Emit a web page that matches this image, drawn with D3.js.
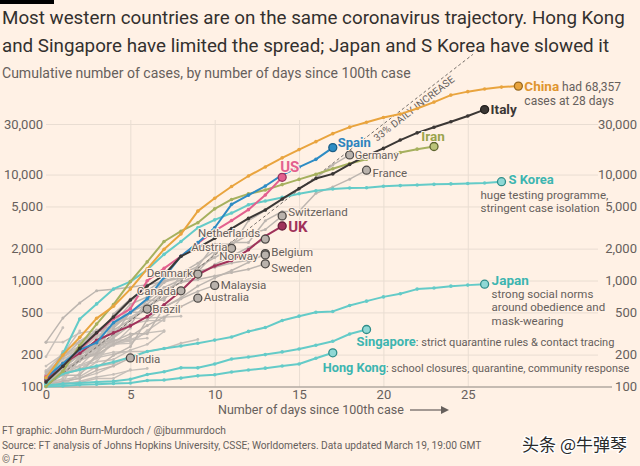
<!DOCTYPE html>
<html><head><meta charset="utf-8">
<script src="https://cdn.jsdelivr.net/npm/d3@7/dist/d3.min.js"></script>
<style>
html,body{margin:0;padding:0;background:#FFF1E5;}
svg{display:block;font-family:Roboto,"Noto Sans",sans-serif;}
</style></head><body>
<svg id="c" width="640" height="466"></svg>
<script>
// ---------------- DATA (cumulative cases, index = days since 100th case) ----------------
const china = [121,198,291,440,571,830,1287,1975,2744,4515,5974,7711,9692,11791,14380,17205,20438,24324,28018,31161,34546,37198,42000,48300,56200,60600,64100,66900,68357];
const italy = [110,155,229,322,453,655,888,1128,1694,2036,2502,3089,3858,4636,5883,7375,9172,10149,12462,15113,17660,21157,24747,27980,31506,35713,41035];
const iran = [100,139,245,388,593,978,1501,2336,2922,3513,4747,5823,6566,7161,8042,9000,10075,11364,12729,13938,14991,16169,17361,18407];
const spain = [120,165,222,259,400,500,673,1073,1695,2277,3146,5232,6391,7798,9942,11748,13910,17963];
const us = [124,158,221,319,435,541,994,1301,1697,2247,2943,3680,4663,6411,9415];
const uk = [115,163,206,273,321,373,456,590,798,1140,1372,1543,1950,2626,3269];
const sKorea = [104,204,433,602,833,977,1261,1766,2337,3150,3736,4335,5186,5621,6088,6593,7041,7314,7478,7513,7755,7869,7979,8086,8162,8236,8320,8565];
const japan = [105,132,144,156,170,189,214,228,241,256,274,293,331,360,420,461,502,511,581,639,701,750,830,850,885,905,924];
const singapore = [102,106,108,110,112,117,130,138,150,150,163,182,190,200,212,226,245,267,313,345];
const hongKong = [100,101,104,105,107,108,114,115,120,126,129,137,143,149,156,163,185,208];

// grey countries with labels
const germany = [130,159,196,262,482,670,799,1040,1176,1457,1908,2078,3675,4585,5795,7272,9257,12327,15320];
const france = [100,130,191,204,288,380,656,957,1134,1217,1792,2289,2284,3672,4480,4513,6650,7652,9043,10995];
const switzerland = [114,214,268,337,374,491,652,652,1139,1359,2200,2200,2700,3028,4075];
const netherlands = [128,188,265,321,382,503,503,804,959,1135,1413,1705,2051,2460];
const austria = [104,131,182,246,302,504,655,860,1018,1332,1646,2013];
const belgium = [109,169,200,239,267,314,314,559,689,886,1058,1243,1486,1795];
const norway = [108,147,176,205,400,598,702,996,1090,1221,1333,1463,1550,1746];
const sweden = [137,161,203,248,355,500,599,814,961,1022,1103,1190,1279,1439];
const denmark = [262,442,615,801,827,864,914,977,1057,1151];
const canada = [108,138,176,252,341,424,569,690,800];
const brazil = [121,151,200,234,291,428,538];
const malaysia = [117,129,149,149,197,238,428,566,673,790,900];
const australia = [107,128,128,200,250,297,377,452,568,681];
const india = [102,113,119,142,156,186];

// other (unlabelled) countries
const greyOtherNames = ["Qatar","Israel","Portugal","Ireland","Greece","Finland","Iceland","Czechia","Slovenia","Poland","Romania","Chile","Luxembourg","Philippines","Indonesia","Thailand","Saudi Arabia","Egypt","Kuwait","Bahrain","Estonia","Lebanon","Peru","Pakistan","Iraq","Russia","San Marino","Turkey"];
const greyOtherValues = [
  [262,262,320,337,401,439,442,452,460],
  [109,131,143,193,251,255,337,433,677],
  [112,169,245,331,448,642,785],
  [129,169,223,292,366,557],
  [99,190,228,331,331,387,418,418],
  [109,156,155,225,244,277,321,336],
  [117,134,156,171,180,220,250,330],
  [116,150,214,298,383,450,560,765],
  [141,181,219,253,275,275,286],
  [103,119,177,238,251,355],
  [123,131,158,184,260],
  [156,201,238,342],
  [140,203,335],
  [111,140,142,187,202,217],
  [117,134,172,227,311],
  [114,147,177,212,272],
  [103,103,133,171,274],
  [110,150,196,196,256,285],
  [100,104,112,123,130,142,148],
  [109,110,195,195,211,214,214,228,256,278],
  [115,171,205,225,258,267],
  [110,110,120,133,157],
  [117,145,234,234],
  [134,187,245,301],
  [110,116,124,154,164,192],
  [114,147,199],
  [101,109,109,119,119,144],
  [191,359]
];

const yTicks = [100,200,500,1000,2000,5000,10000,30000];
const xTicks = [0,5,10,15,20,25];
const dailyGrowth = 1.33;

// ---------------- LAYOUT ----------------
const svg = d3.select("#c");
const ink = "#33302E", mute = "#66605C", grid = "#E9DDD2";
const x = d3.scaleLinear().domain([0,25]).range([46,467.75]);
const y = d3.scaleLog().domain([100,30000]).range([386.5,124]);
const gridRight = 598, topY = 120;

svg.append("rect").attr("width",640).attr("height",466).attr("fill","#FFF1E5");
svg.append("rect").attr("x",0).attr("y",0).attr("width",54).attr("height",4).attr("fill","#000");

function fitW(sel, w){
  const cur = sel.node().getComputedTextLength();
  const fs = parseFloat(sel.attr("font-size"));
  sel.attr("font-size", fs*w/cur);
  return fs*w/cur;
}
const t1 = svg.append("text").attr("x",2).attr("y",24).attr("font-size",18).attr("fill",ink)
  .text("Most western countries are on the same coronavirus trajectory. Hong Kong");
const tfs = fitW(t1, 623);
svg.append("text").attr("x",2).attr("y",52).attr("font-size",tfs).attr("fill",ink)
  .text("and Singapore have limited the spread; Japan and S Korea have slowed it");
const st = svg.append("text").attr("x",2).attr("y",78).attr("font-size",13).attr("fill",mute)
  .text("Cumulative number of cases, by number of days since 100th case");
fitW(st, 409);

// gridlines + axes
const gy = svg.append("g").attr("transform",`translate(${x(0)},0)`)
  .call(d3.axisLeft(y).tickValues(yTicks).tickSize(-(gridRight-x(0))).tickPadding(3).tickFormat(d3.format(",")));
gy.select(".domain").remove();
gy.selectAll(".tick line").attr("stroke",grid).attr("stroke-width",1);
gy.selectAll(".tick text").attr("font-size",13).attr("fill",mute).attr("font-family","Roboto");
gy.selectAll(".tick").filter(d=>d===100).select("line").attr("x2",612-x(0)).attr("stroke","#8C8580").attr("stroke-width",1.2);

const gyr = svg.append("g").attr("transform","translate(637,0)")
  .call(d3.axisRight(y).tickValues(yTicks).tickSize(0).tickPadding(0).tickFormat(d3.format(",")));
gyr.select(".domain").remove();
gyr.selectAll(".tick text").attr("text-anchor","end").attr("font-size",13).attr("fill",mute).attr("font-family","Roboto");

const gx = svg.append("g").attr("transform",`translate(0,${y(100)})`)
  .call(d3.axisBottom(x).tickValues(xTicks).tickSize(-(y(100)-topY)).tickPadding(3));
gx.select(".domain").remove();
gx.selectAll(".tick line").attr("stroke",d=>d===0?"none":grid);
gx.selectAll(".tick text").attr("font-size",13).attr("fill",mute).attr("font-family","Roboto");

gy.raise();
gy.selectAll(".tick").filter(d=>d!==100).lower();

const at = svg.append("text").attr("x",218).attr("y",414).attr("font-size",13).attr("fill",mute)
  .text("Number of days since 100th case");
fitW(at, 186);
svg.append("line").attr("x1",410).attr("x2",442).attr("y1",410).attr("y2",410).attr("stroke",mute).attr("stroke-width",1.2);
svg.append("path").attr("d","M441,406 L449,410 L441,414 Z").attr("fill",mute);

// footer
const f1 = svg.append("text").attr("x",2).attr("y",434).attr("font-size",11).attr("fill",mute)
  .text("FT graphic: John Burn-Murdoch / @jburnmurdoch");
const f2 = svg.append("text").attr("x",2).attr("y",449).attr("font-size",11).attr("fill",mute)
  .text("Source: FT analysis of Johns Hopkins University, CSSE; Worldometers. Data updated March 19, 19:00 GMT");
const ffs = fitW(f2, 480);
f1.attr("font-size", ffs);
const f3 = svg.append("text").attr("x",2).attr("y",463).attr("font-size",ffs).attr("fill",mute);
f3.append("tspan").text("© ");
f3.append("tspan").attr("font-style","italic").text("FT");

// watermark
svg.append("text").attr("x",627).attr("y",451).attr("text-anchor","end")
  .attr("font-family","'Noto Sans CJK SC'").attr("font-size",17).attr("fill","#2a2a2a")
  .attr("stroke","#fff").attr("stroke-width",2.5).attr("paint-order","stroke")
  .text("头条 @牛弹琴");

// ---------------- MARKS ----------------
const line = d3.line().x((d,i)=>x(i)).y(d=>y(d));
const plot = svg.append("g");
function drawSeries(vals, color, w, r){
  const g = plot.append("g");
  g.append("path").datum(vals).attr("d",line).attr("fill","none").attr("stroke",color)
    .attr("stroke-width",w).attr("stroke-linejoin","round").attr("stroke-linecap","round");
  g.selectAll("circle").data(vals).join("circle").attr("cx",(d,i)=>x(i)).attr("cy",d=>y(d)).attr("r",r).attr("fill",color);
  return g;
}
function endPt(vals){ return [x(vals.length-1), y(vals[vals.length-1])]; }
function endCircle(vals, fill, stroke){
  const [ex,ey] = endPt(vals);
  plot.append("circle").attr("cx",ex).attr("cy",ey).attr("r",4).attr("fill",fill).attr("stroke",stroke).attr("stroke-width",1.3);
}

const greyC = "#C6BFB9";
greyOtherValues.forEach(v=>drawSeries(v, greyC, 1.4, 1.4));
const labelledGrey = [germany,france,switzerland,netherlands,austria,belgium,norway,sweden,denmark,canada,brazil,malaysia,australia,india];
labelledGrey.forEach(v=>drawSeries(v, "#BDB6B0", 1.5, 1.5));

// 33% daily increase reference
const refDays = d3.range(0, 25.31, 0.1);
plot.append("path").datum(refDays).attr("d", d3.line().x(d=>x(d)).y(d=>y(100*Math.pow(dailyGrowth,d))))
  .attr("fill","none").attr("stroke","#6E6863").attr("stroke-width",1).attr("stroke-dasharray","3,2.5");
{
  const d0 = 19.25, px = x(d0), py = y(100*Math.pow(dailyGrowth,d0));
  const ang = Math.atan2(y(100)-y(100*Math.pow(dailyGrowth,1)), x(1)-x(0))*180/Math.PI;
  const rad = ang*Math.PI/180;
  plot.append("text").attr("transform",`translate(${px+2*Math.sin(rad)},${py+2*Math.cos(rad)}) rotate(${-ang})`)
    .attr("dy","0.8em").attr("font-size",10).attr("fill",mute).attr("letter-spacing",0.2)
    .text("33% DAILY INCREASE");
}

const teal = "#64CBC8", tealLab = "#3DB5B0";
drawSeries(hongKong, teal, 2, 1.8);
drawSeries(singapore, teal, 2, 1.8);
drawSeries(japan, teal, 2, 1.8);
drawSeries(sKorea, teal, 2, 1.8);
drawSeries(iran, "#A6B05E", 2, 1.8);
drawSeries(uk, "#A0325A", 2, 1.8);
drawSeries(us, "#E3608E", 2, 1.8);
drawSeries(spain, "#2E8CC4", 2, 1.8);
drawSeries(italy, "#3B3735", 2, 1.8);
drawSeries(china, "#E9A43E", 2, 1.8);

// end circles
const gFill = "#B9B2AC", gStroke = "#4E4A47";
labelledGrey.forEach(v=>endCircle(v, gFill, gStroke));
endCircle(hongKong, "#8FD8D5", "#2F8D89");
endCircle(singapore, "#8FD8D5", "#2F8D89");
endCircle(japan, "#8FD8D5", "#2F8D89");
endCircle(sKorea, "#8FD8D5", "#2F8D89");
endCircle(iran, "#BBC47A", "#5F6630");
endCircle(uk, "#A0325A", "#6A1F3B");
endCircle(us, "#E3608E", "#9A3560");
endCircle(spain, "#2E8CC4", "#1D5E86");
endCircle(italy, "#3B3735", "#221F1D");
endCircle(china, "#E9A43E", "#9A6A1F");

// ---------------- LABELS ----------------
const lab = svg.append("g");
function label(vals, dx, dy, txt, opts={}){
  const [ex,ey] = endPt(vals);
  const t = lab.append("text").attr("x",ex+dx).attr("y",ey+dy).attr("dy","0.35em")
    .attr("font-size",opts.size||11).attr("fill",opts.color||mute)
    .attr("font-weight",opts.bold?"bold":"normal").attr("text-anchor",opts.anchor||"start")
    .text(txt);
  t.attr("stroke","#FFF1E5").attr("stroke-width",2.2).attr("paint-order","stroke").attr("stroke-linejoin","round");
  return t;
}
// China
{
  const t = label(china, 6, 0, "China", {size:13.5,bold:true,color:"#E0952F"});
  t.append("tspan").attr("font-weight","normal").attr("font-size",12).attr("fill",mute).text(" had 68,357");
  label(china, 6, 15, "cases at 28 days", {size:12});
}
label(italy, 6, 0, "Italy", {size:13.5,bold:true,color:"#3B3735"});
label(iran, -1, -10, "Iran", {size:13.5,bold:true,color:"#9AA44C",anchor:"middle"});
label(spain, 5, -5, "Spain", {size:13,bold:true,color:"#2E84BE"});
label(germany, 5, 0, "Germany", {size:11});
label(france, 6, 3, "France", {size:11.5});
label(sKorea, 7, -2.5, "S Korea", {size:13,bold:true,color:tealLab});
label(sKorea, -21, 13, "huge testing programme,", {size:11.5});
label(sKorea, -21, 26.5, "stringent case isolation", {size:11.5});
label(us, -2, -11, "US", {size:15,bold:true,color:"#E3608E"});
label(switzerland, 6, -4, "Switzerland", {size:11.5});
label(uk, 6, 0.5, "UK", {size:15,bold:true,color:"#A0325A"});
label(netherlands, -5, -6, "Netherlands", {size:11.5,anchor:"end"});
label(austria, -4, -1, "Austria", {size:11.5,anchor:"end"});
label(belgium, 6, -2, "Belgium", {size:11.5});
label(norway, -7, 1.5, "Norway", {size:11.5,anchor:"end"});
label(sweden, 6, 4.5, "Sweden", {size:11.5});
label(denmark, -5, -1, "Denmark", {size:11.5,anchor:"end"});
label(canada, -5, 0, "Canada", {size:11.5,anchor:"end"});
label(malaysia, 6, 0, "Malaysia", {size:11.5});
label(australia, 6, -1, "Australia", {size:11.5});
label(brazil, 5, 0, "Brazil", {size:11.5});
label(india, 5, 1, "India", {size:11.5});
label(japan, 7, -4, "Japan", {size:13.5,bold:true,color:tealLab});
label(japan, 7, 9.5, "strong social norms", {size:11.5});
label(japan, 7, 23, "around obedience and", {size:11.5});
label(japan, 7, 36.5, "mask-wearing", {size:11.5});
function fitMixed(t, w){
  const cur = t.node().getBBox().width;
  const k = w/cur;
  t.attr("font-size", parseFloat(t.attr("font-size"))*k);
  t.selectAll("tspan").each(function(){ const s=d3.select(this); s.attr("font-size", parseFloat(s.attr("font-size"))*k); });
}
{
  const t = label(singapore, -10, 12, "Singapore", {size:13.5,bold:true,color:tealLab});
  t.append("tspan").attr("font-weight","normal").attr("font-size",11.5).attr("fill",mute).text(": strict quarantine rules & contact tracing");
  fitMixed(t, 258);
  const h = label(hongKong, -10, 15, "Hong Kong", {size:13.5,bold:true,color:tealLab});
  h.append("tspan").attr("font-weight","normal").attr("font-size",11.5).attr("fill",mute).text(": school closures, quarantine, community response");
  fitMixed(h, 307);
}
</script>
</body></html>
